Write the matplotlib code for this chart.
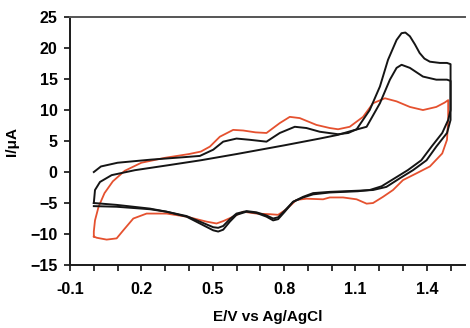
import matplotlib
matplotlib.use("Agg")
import matplotlib.pyplot as plt
import matplotlib.ticker as mtick

plt.rcParams['font.family'] = ['Liberation Sans', 'DejaVu Sans']
plt.rcParams['font.weight'] = 'bold'

# first black scan (starts at 0 V, shows the small bumps, big peak)
scan1_E = [0.0, 0.03, 0.10, 0.24, 0.38, 0.446, 0.502, 0.544, 0.60, 0.656, 0.726, 0.782,
           0.845, 0.894, 0.95, 1.027, 1.07, 1.105, 1.16, 1.203, 1.237, 1.273, 1.294, 1.31,
           1.329, 1.35, 1.37, 1.39, 1.413, 1.455, 1.485, 1.50,
           1.50, 1.485, 1.44, 1.399, 1.342, 1.287, 1.23, 1.174, 1.118, 0.992, 0.922,
           0.88, 0.838, 0.803, 0.775, 0.754, 0.726, 0.684, 0.642, 0.60, 0.572, 0.544,
           0.523, 0.502, 0.446, 0.39, 0.306, 0.236, 0.166, 0.096, 0.0]
scan1_I = [0.0, 0.9, 1.5, 2.0, 2.4, 2.6, 3.6, 4.9, 5.4, 5.2, 4.9, 6.3,
           7.3, 7.1, 6.5, 6.1, 6.3, 6.9, 10.0, 13.8, 18.1, 21.3, 22.4, 22.5,
           21.9, 20.6, 19.2, 18.3, 17.8, 17.6, 17.6, 17.4,
           8.4, 6.3, 4.1, 1.9, 0.3, -1.0, -2.4, -2.9, -3.0, -3.2, -3.4,
           -4.0, -4.8, -6.4, -7.6, -7.8, -7.2, -6.6, -6.4, -6.9, -8.0, -9.3,
           -9.6, -9.4, -8.3, -7.2, -6.4, -5.9, -5.6, -5.3, -5.0]

# second black scan (starts at -5, no bumps on the way up)
scan2_E = [0.0, 0.005, 0.026, 0.075, 0.173, 0.313, 0.45, 0.60, 0.80, 0.95, 1.027, 1.08,
           1.147, 1.203, 1.245, 1.273, 1.294, 1.329, 1.384, 1.44, 1.485, 1.50,
           1.50, 1.49, 1.465, 1.42, 1.377, 1.32, 1.265, 1.21, 1.16, 1.11, 0.992, 0.922,
           0.88, 0.838, 0.803, 0.775, 0.754, 0.726, 0.684, 0.642, 0.60, 0.572, 0.544,
           0.523, 0.502, 0.446, 0.39, 0.306, 0.236, 0.166, 0.096, 0.0]
scan2_I = [-5.0, -2.9, -1.6, -0.5, 0.3, 1.1, 1.9, 2.9, 4.3, 5.4, 6.0, 6.6,
           7.3, 11.1, 14.9, 16.8, 17.3, 16.8, 15.4, 14.9, 14.9, 14.7,
           10.0, 8.4, 6.3, 4.1, 1.9, 0.3, -1.0, -2.3, -2.9, -3.1, -3.3, -3.6,
           -4.1, -4.8, -6.2, -7.3, -7.5, -7.0, -6.5, -6.3, -6.7, -7.6, -8.7,
           -9.0, -8.9, -8.0, -7.1, -6.4, -6.0, -5.8, -5.6, -5.5]

# red scan
scan3_E = [0.0, 0.0, 0.005, 0.02, 0.045, 0.08, 0.13, 0.20, 0.30, 0.40, 0.45, 0.488, 0.53,
           0.586, 0.628, 0.68, 0.726, 0.782, 0.824, 0.866, 0.936, 0.992, 1.027, 1.076,
           1.132, 1.174, 1.224, 1.273, 1.329, 1.384, 1.44, 1.475, 1.49,
           1.49, 1.485, 1.465, 1.413, 1.357, 1.30, 1.258, 1.216, 1.174, 1.147, 1.105,
           1.048, 0.992, 0.964, 0.894, 0.852, 0.81, 0.775, 0.74, 0.684, 0.628, 0.586,
           0.545, 0.516, 0.474, 0.39, 0.306, 0.222, 0.166, 0.124, 0.096, 0.054, 0.012, 0.0]
scan3_I = [-10.4, -9.6, -7.8, -5.6, -3.4, -1.5, 0.2, 1.5, 2.3, 2.9, 3.3, 4.1, 5.7,
           6.8, 6.7, 6.4, 6.3, 7.9, 8.9, 8.7, 7.6, 7.1, 6.9, 7.3,
           8.9, 11.1, 11.9, 11.4, 10.5, 10.0, 10.5, 11.2, 11.6,
           8.4, 5.2, 3.0, 0.9, -0.2, -1.3, -2.9, -4.0, -5.0, -5.1, -4.4,
           -4.1, -4.1, -4.4, -4.3, -4.5, -6.0, -6.9, -6.8, -6.7, -6.4, -7.2,
           -7.9, -8.3, -8.0, -7.2, -6.7, -6.7, -7.5, -9.4, -10.7, -10.9, -10.6, -10.4]

x_labels = ['-0.1', '0.2', '0.5', '0.8', '1.1', '1.4']
x_label_pos = [-0.1, 0.2, 0.5, 0.8, 1.1, 1.4]

fig = plt.figure(figsize=(4.70, 3.28), dpi=100)
ax = fig.add_axes([0.149, 0.192, 0.840, 0.756])

ax.plot(scan3_E, scan3_I, color='#e5512f', lw=1.3, solid_joinstyle='round')
ax.plot(scan2_E, scan2_I, color='#151515', lw=1.4, solid_joinstyle='round')
ax.plot(scan1_E, scan1_I, color='#151515', lw=1.4, solid_joinstyle='round')

ax.set_xlim(-0.1, 1.56)
ax.set_ylim(-15, 25)

ax.set_xticks(x_label_pos)
ax.set_xticklabels(x_labels)
ax.xaxis.set_minor_locator(mtick.MultipleLocator(0.1))
ax.yaxis.set_major_locator(mtick.MultipleLocator(5))

ax.tick_params(axis='both', which='both', direction='out', length=4, width=1.3,
               labelsize=11.5, color='#222222')
ax.tick_params(axis='x', which='major', pad=8)
ax.tick_params(axis='y', which='major', pad=5)

ax.spines['right'].set_visible(False)
ax.spines['top'].set_color('#555555')
ax.spines['top'].set_linewidth(1.4)
for side in ['left', 'bottom']:
    ax.spines[side].set_color('#1a1a1a')
    ax.spines[side].set_linewidth(1.4)

ax.set_xlabel('E/V vs Ag/AgCl', fontsize=11, fontweight='bold')
ax.set_ylabel('I/\u03bcA', fontsize=11, fontweight='bold')
ax.xaxis.set_label_coords(0.5, -0.18)
ax.yaxis.set_label_coords(-0.13, 0.5)

fig.savefig('out.png', dpi=100)
